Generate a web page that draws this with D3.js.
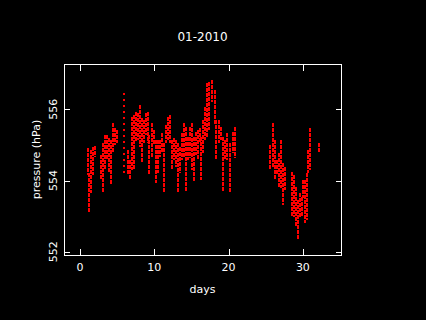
<!DOCTYPE html>
<html>
<head>
<meta charset="utf-8">
<script src="https://cdn.jsdelivr.net/npm/d3@7"></script>
<style>
  body { margin: 0; background: #000; }
  text { font-family: "DejaVu Sans", sans-serif; fill: #fff; }
</style>
</head>
<body>
<div id="chart"></div>
<script>
// vertical streaks of pressure samples (day, low, high)
var streakDay = [0.90, 1.08, 1.35, 1.66, 1.88, 2.69, 2.96, 3.23, 3.50, 3.77, 4.04, 4.31, 4.58, 4.85,
  5.85, 6.29, 6.64, 6.82, 7.09, 7.40, 7.71, 7.98, 8.25, 8.52, 8.79, 8.98, 9.19, 9.52, 9.78,
  10.05, 10.32, 10.59, 10.86, 11.13, 11.40, 11.67, 11.94, 12.21, 12.48, 12.75, 13.01, 13.28,
  13.55, 13.82, 14.09, 14.36, 14.63, 14.90, 15.17, 15.44, 15.71, 15.98, 16.15, 16.42, 16.69,
  16.96, 17.23, 17.63, 18.03, 18.17, 18.57, 18.84, 19.11, 19.38, 19.65, 20.05, 20.46, 20.73,
  25.44, 25.84, 26.11, 26.38, 26.65, 26.92, 27.19, 27.46, 28.40, 28.67, 28.94, 29.21, 29.48,
  29.74, 29.88, 30.15, 30.42, 30.55, 30.82, 32.03];
var streakLow = [554.15, 553.09, 553.65, 554.15, 554.66, 554.01, 553.68, 554.29, 554.58, 554.21, 553.87, 554.80, 555.00, 555.05,
  554.11, 554.15, 554.01, 554.29, 554.29, 555.08, 555.14, 554.94, 554.52, 555.05, 555.28, 555.05, 554.15, 554.66, 555.00,
  553.93, 554.21, 554.66, 554.77, 553.65, 555.05, 555.14, 555.05, 554.29, 554.58, 554.38, 553.65, 554.21,
  554.58, 554.66, 553.68, 554.58, 554.63, 554.29, 553.96, 554.72, 554.58, 555.05, 554.01, 554.77, 555.14,
  555.22, 555.42, 556.21, 555.56, 554.58, 555.05, 555.14, 553.68, 554.58, 554.58, 553.68, 554.77, 554.63,
  554.29, 554.38, 554.01, 554.15, 553.79, 553.79, 553.31, 553.73, 552.97, 552.97, 552.69, 552.33, 552.95,
  552.97, 553.51, 552.81, 552.89, 554.21, 554.29, 554.80];
var streakHigh = [554.91, 554.21, 554.86, 554.94, 554.97, 554.72, 555.05, 555.28, 555.28, 555.19, 555.14, 555.62, 555.47, 555.42,
  556.47, 554.86, 554.58, 555.78, 555.84, 555.92, 555.90, 556.12, 555.76, 555.70, 555.90, 555.92, 555.28, 555.62, 555.42,
  555.14, 555.14, 555.14, 555.33, 555.05, 555.56, 555.78, 555.84, 555.14, 555.19, 555.14, 555.05, 554.94,
  555.33, 555.62, 555.50, 555.22, 555.50, 555.62, 555.22, 555.36, 555.42, 555.47, 555.22, 555.70, 556.06,
  556.74, 556.77, 556.82, 556.54, 555.70, 555.70, 555.50, 555.22, 555.14, 555.33, 555.05, 555.36, 555.50,
  555.00, 555.62, 555.14, 554.58, 554.77, 555.14, 554.49, 554.38, 554.24, 554.15, 553.82, 553.45, 553.65,
  553.54, 554.01, 554.01, 554.21, 554.86, 555.47, 555.05];

var xTicks = [0, 10, 20, 30];
var yTicks = [552, 554, 556];
var title = "01-2010";

(function() {
  var width = 426, height = 320;
  var pL = 64, pR = 341, pT = 64, pB = 255;

  var svg = d3.select("#chart").append("svg")
    .attr("width", width)
    .attr("height", height)
    .style("background", "#000");

  var x = d3.scaleLinear().domain([-2.15, 35.13]).range([pL, pR]);
  var y = d3.scaleLinear().domain([551.91, 557.27]).range([pB, pT]);

  var data = streakDay.map(function(d, i) {
    return {day: d, lo: streakLow[i], hi: streakHigh[i]};
  });

  // red dotted streaks
  svg.append("g").selectAll("line")
    .data(data)
    .enter().append("line")
    .attr("x1", function(d) { return Math.round(x(d.day)) + 1; })
    .attr("x2", function(d) { return Math.round(x(d.day)) + 1; })
    .attr("y1", function(d) { return Math.round(y(d.hi)); })
    .attr("y2", function(d) { return Math.round(y(d.lo)); })
    .attr("stroke", "#ff0000")
    .attr("stroke-width", 2)
    .attr("shape-rendering", "crispEdges")
    .attr("stroke-dasharray", function(d, i) { return i === 14 ? "2,4" : "4,1"; });

  // frame
  svg.append("rect")
    .attr("x", pL + 0.5).attr("y", pT + 0.5)
    .attr("width", pR - pL).attr("height", pB - pT)
    .attr("fill", "none").attr("stroke", "#fff").attr("stroke-width", 1);

  var tl = 6;
  var axisG = svg.append("g").attr("stroke", "#fff").attr("stroke-width", 1);
  xTicks.forEach(function(t) {
    var px = Math.round(x(t)) + 0.5;
    axisG.append("line").attr("x1", px).attr("x2", px).attr("y1", pB).attr("y2", pB - tl);
    axisG.append("line").attr("x1", px).attr("x2", px).attr("y1", pT + 1).attr("y2", pT + 1 + tl);
  });
  yTicks.forEach(function(t) {
    var py = Math.round(y(t)) + 0.5;
    axisG.append("line").attr("x1", pL).attr("x2", pL + tl).attr("y1", py).attr("y2", py);
    axisG.append("line").attr("x1", pR + 1).attr("x2", pR + 1 - tl).attr("y1", py).attr("y2", py);
  });

  svg.append("g").selectAll("text")
    .data(xTicks)
    .enter().append("text")
    .attr("x", function(d) { return x(d); })
    .attr("y", 271)
    .attr("text-anchor", "middle")
    .attr("font-size", "11px")
    .text(function(d) { return d; });

  svg.append("g").selectAll("text")
    .data(yTicks)
    .enter().append("text")
    .attr("transform", function(d) { return "translate(57," + y(d) + ") rotate(-90)"; })
    .attr("text-anchor", "middle")
    .attr("font-size", "11px")
    .text(function(d) { return d; });

  svg.append("text")
    .attr("x", (pL + pR) / 2).attr("y", 41)
    .attr("text-anchor", "middle")
    .attr("font-size", "12px")
    .text(title);

  svg.append("text")
    .attr("x", (pL + pR) / 2).attr("y", 293)
    .attr("text-anchor", "middle")
    .attr("font-size", "11px")
    .text("days");

  svg.append("text")
    .attr("transform", "translate(40," + (pT + pB) / 2 + ") rotate(-90)")
    .attr("text-anchor", "middle")
    .attr("font-size", "11px")
    .text("pressure (hPa)");
})();
</script>
</body>
</html>
